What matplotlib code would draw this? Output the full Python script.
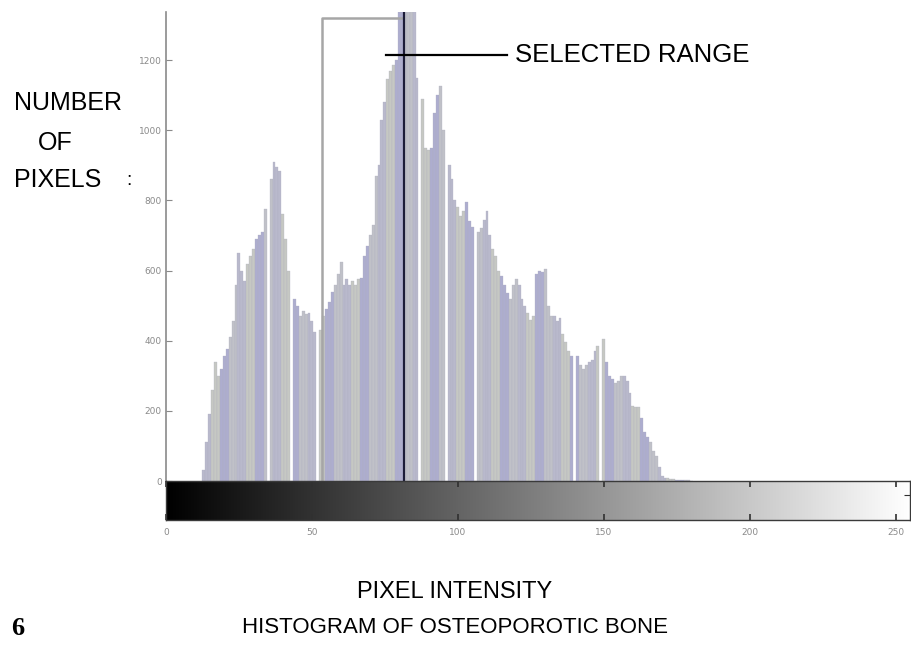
"""
Histogram of osteoporotic bone (imhist-style) with selected range marker.
"""

import numpy as np
import matplotlib.pyplot as plt

# ------------------------------------------------------------------ data --
FIRST_LEVEL = 13
PIXEL_COUNTS = [
    30, 110, 190, 260, 340, 300, 320, 355, 375, 410,            # 13-22
    455, 560, 650, 600, 570, 620, 640, 660, 690, 700,           # 23-32
    710, 775, 0, 860, 908, 895, 885, 760, 690, 600,             # 33-42
    0, 520, 500, 470, 485, 475, 480, 455, 425, 0,               # 43-52
    430, 470, 490, 510, 540, 560, 590, 625, 560, 575,           # 53-62
    560, 570, 560, 575, 580, 640, 670, 700, 730, 870,           # 63-72
    900, 1030, 1080, 1145, 1170, 1185, 1200, 1400, 1400, 1400,  # 73-82
    1400, 1400, 1400, 1150, 0, 1090, 950, 945, 950, 1050,       # 83-92
    1100, 1125, 1000, 0, 900, 860, 800, 780, 755, 770,          # 93-102
    795, 740, 725, 0, 710, 720, 745, 770, 700, 660,             # 103-112
    640, 600, 585, 560, 535, 520, 560, 575, 560, 520,           # 113-122
    500, 480, 460, 470, 590, 600, 595, 605, 500, 470,           # 123-132
    470, 455, 465, 420, 395, 370, 355, 0, 355, 330,             # 133-142
    320, 330, 340, 345, 370, 385, 0, 405, 340, 300,             # 143-152
    290, 280, 285, 300, 300, 285, 250, 215, 210, 212,           # 153-162
    180, 140, 125, 110, 85, 70, 40, 15, 10, 8,                  # 163-172
    6, 5, 4, 3, 3, 2, 2, 1,                                     # 173-180
]
LEVELS = np.arange(FIRST_LEVEL, FIRST_LEVEL + len(PIXEL_COUNTS))

X_TICKS = [0, 50, 100, 150, 200, 250]
Y_TICKS = [0, 200, 400, 600, 800, 1000, 1200]

# selected range (intensity units / pixel counts)
RANGE_LO, RANGE_HI, RANGE_TOP = 53.5, 80.8, 1320
SELECTED_LEVEL = 81.7
LABEL_LINE = (75.3, 116.8, 1214)

BAR_SHADES = ["#b9b9cc", "#c6c8c3", "#adadcf", "#c0c1c8"]
FONT = ["Liberation Sans", "DejaVu Sans"]

# ---------------------------------------------------------------- figure --
fig = plt.figure(figsize=(9.12, 6.48), dpi=100)
ax = fig.add_axes([0.182, 0.2577, 0.816, 0.7238])
cax = fig.add_axes([0.182, 0.1975, 0.816, 0.0602])

colors = [BAR_SHADES[(i // 3) % len(BAR_SHADES)] for i in range(len(LEVELS))]
ax.bar(LEVELS, PIXEL_COUNTS, width=1.0, color=colors,
       edgecolor="#aeaec0", linewidth=0.2, zorder=2)

# selected range box + marker
ax.plot([RANGE_LO, RANGE_LO, RANGE_HI], [0, RANGE_TOP, RANGE_TOP],
        color="#a6a6a6", lw=1.8, zorder=3, clip_on=False)
ax.axvline(SELECTED_LEVEL, color="#1c1c38", lw=1.6, zorder=4)
ax.plot(LABEL_LINE[:2], [LABEL_LINE[2]] * 2, color="black", lw=1.6, zorder=5)
ax.text(LABEL_LINE[1] + 2.7, LABEL_LINE[2], "SELECTED RANGE",
        fontsize=18.5, family=FONT, va="center", ha="left")

ax.set_xlim(0, 255)
ax.set_ylim(0, 1337)
ax.set_xticks([])
ax.set_yticks(Y_TICKS)
ax.tick_params(axis="y", direction="in", length=4, width=0.8,
               colors="#8a8a8a", labelsize=6.5, pad=3)
for side in ("top", "right", "bottom"):
    ax.spines[side].set_visible(False)
ax.spines["left"].set_color("#8a8a8a")
ax.spines["left"].set_linewidth(1.2)

# gray colour bar under the histogram
gradient = np.arange(256).reshape(1, -1)
cax.imshow(gradient, cmap="gray", aspect="auto",
           extent=[0, 255, 0, 1], vmin=0, vmax=255)
cax.set_xlim(0, 255)
cax.set_ylim(0, 1)
cax.set_xticks(X_TICKS)
cax.tick_params(axis="x", direction="in", top=True, bottom=True, length=4,
                width=1.2, color="#303030", labelcolor="#8a8a8a",
                labelsize=6.5, pad=6)
cax.set_yticks([0.64])
cax.set_yticklabels([""])
cax.tick_params(axis="y", direction="in", left=False, right=True,
                length=4, color="#303030")
for sp in cax.spines.values():
    sp.set_color("#3a3a3a")
    sp.set_linewidth(1.0)

# ------------------------------------------------------------------ text --
fig.text(0.015, 0.841, "NUMBER", fontsize=18, family=FONT, va="center")
fig.text(0.042, 0.779, "OF", fontsize=18, family=FONT, va="center")
fig.text(0.015, 0.722, "PIXELS", fontsize=18, family=FONT, va="center")
fig.text(0.138, 0.722, ":", fontsize=14, family=FONT, va="center")
fig.text(0.499, 0.0864, "PIXEL INTENSITY", fontsize=17, family=FONT,
         ha="center", va="center")
fig.text(0.499, 0.0324, "HISTOGRAM OF OSTEOPOROTIC BONE", fontsize=16,
         family=FONT, ha="center", va="center")
fig.text(0.012, 0.030, "6", fontsize=19, family="Liberation Serif",
         weight="bold", va="center")

fig.savefig("out.png", dpi=100)
